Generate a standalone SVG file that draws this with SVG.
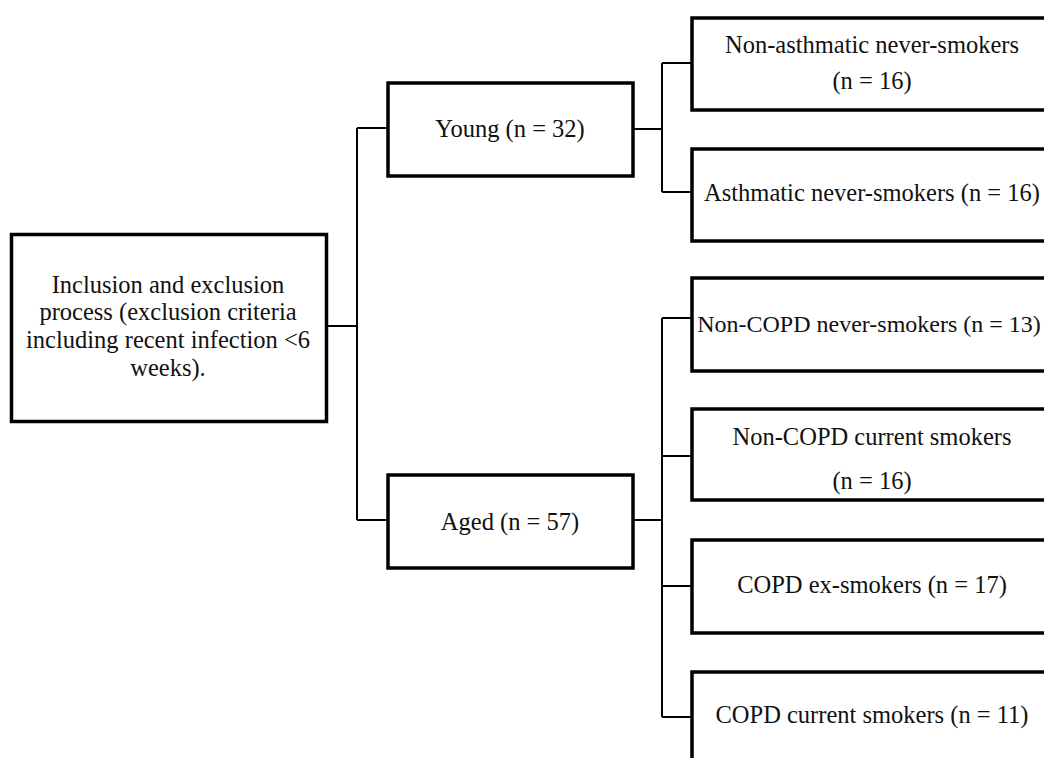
<svg xmlns="http://www.w3.org/2000/svg" width="1044" height="758" viewBox="0 0 1044 758">
<style>
.box{fill:#fff;stroke:#000;stroke-width:3.5}
.ln{fill:none;stroke:#000;stroke-width:2}
text{font-family:"Liberation Serif","Times New Roman",serif;font-size:24.5px;fill:#111;text-anchor:middle}
</style>
<rect width="1044" height="758" fill="#fff"/>
<g id="connectors">
<path class="ln" d="M327 326H357M357 128V520M357 128H388M357 520H388"/>
<path class="ln" d="M633 129H662M662 63V192M662 63H692M662 192H692"/>
<path class="ln" d="M633 520H662M662 318V717M662 318H692M662 456H692M662 586H692M662 717H692"/>
</g>
<g id="root">
<rect class="box" x="11.5" y="234.5" width="315" height="187"/>
<text x="168" y="293">Inclusion and exclusion</text>
<text x="168" y="320">process (exclusion criteria</text>
<text x="168" y="348">including recent infection &lt;6</text>
<text x="168" y="376">weeks).</text>
</g>
<g id="young">
<rect class="box" x="388" y="83" width="245" height="93"/>
<text x="510" y="137">Young (n = 32)</text>
</g>
<g id="aged">
<rect class="box" x="388" y="475" width="245" height="93"/>
<text x="510" y="530">Aged (n = 57)</text>
</g>
<g id="non-asthmatic">
<rect class="box" x="692" y="18" width="362" height="92"/>
<text x="872" y="53">Non-asthmatic never-smokers</text>
<text x="872" y="89">(n = 16)</text>
</g>
<g id="asthmatic">
<rect class="box" x="692" y="149" width="362" height="92"/>
<text x="872" y="201">Asthmatic never-smokers (n = 16)</text>
</g>
<g id="noncopd-never">
<rect class="box" x="692" y="278" width="362" height="93"/>
<text x="869" y="332" style="font-size:24px">Non-COPD never-smokers (n = 13)</text>
</g>
<g id="noncopd-current">
<rect class="box" x="692" y="409" width="362" height="91"/>
<text x="872" y="445">Non-COPD current smokers</text>
<text x="872" y="489">(n = 16)</text>
</g>
<g id="copd-ex">
<rect class="box" x="692" y="540" width="362" height="93"/>
<text x="872" y="593">COPD ex-smokers (n = 17)</text>
</g>
<g id="copd-current">
<rect class="box" x="692" y="672" width="362" height="100"/>
<text x="872" y="723">COPD current smokers (n = 11)</text>
</g>
</svg>
